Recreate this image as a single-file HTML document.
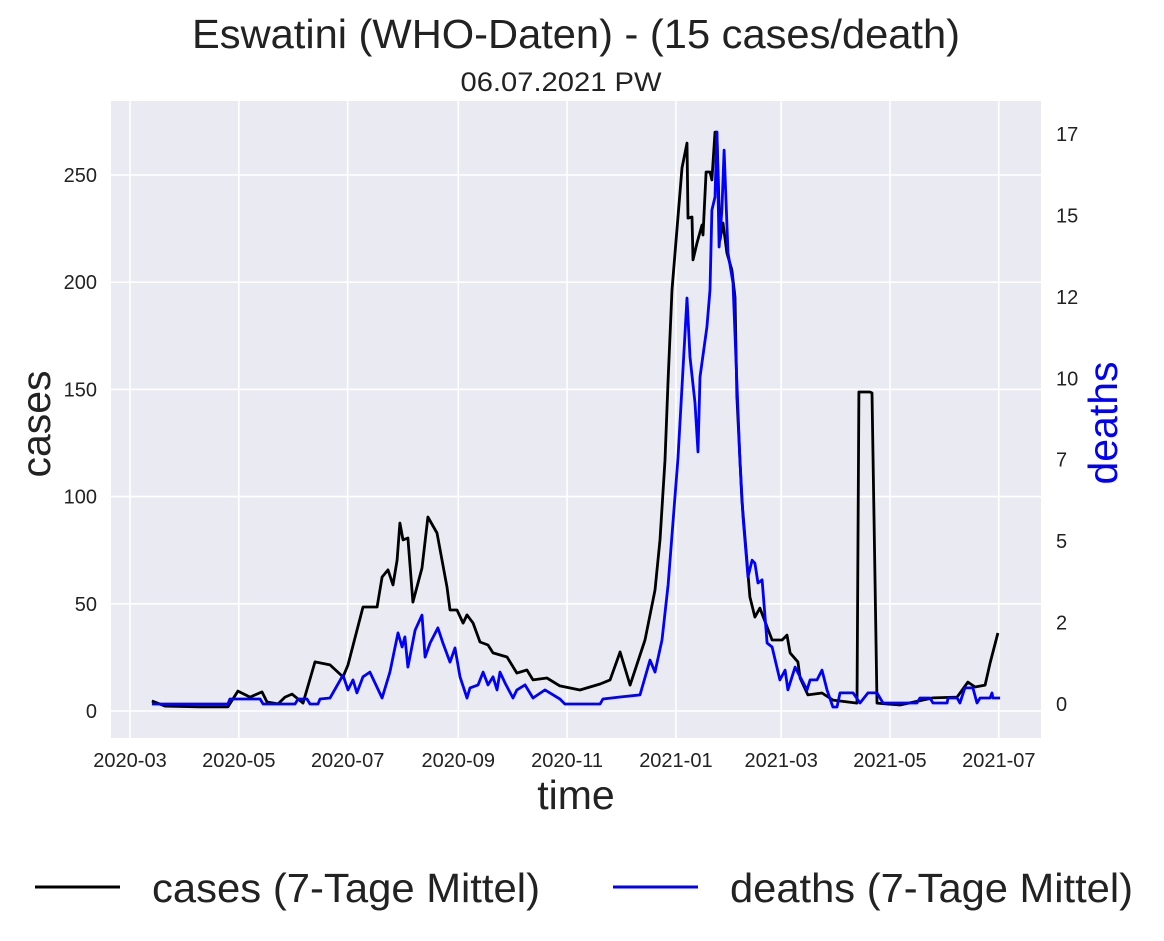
<!DOCTYPE html>
<html><head><meta charset="utf-8">
<style>
body{margin:0;background:#fff;}
svg{display:block;font-family:"Liberation Sans",sans-serif;}
</style></head>
<body>
<svg id="chart" width="1164" height="941" viewBox="0 0 1164 941" xmlns="http://www.w3.org/2000/svg">
<text x="576" y="48" text-anchor="middle" font-size="41" textLength="768" lengthAdjust="spacingAndGlyphs" fill="#222">Eswatini (WHO-Daten) - (15 cases/death)</text>
<text x="561" y="91" text-anchor="middle" font-size="27" textLength="201" lengthAdjust="spacingAndGlyphs" fill="#222">06.07.2021 PW</text>
<rect x="111" y="101" width="930" height="637" fill="#EAEAF2"/>
<g id="grid"></g>
<g id="xticks"></g>
<g id="lticks"></g>
<g id="rticks"></g>
<g id="series"></g>
<text x="576" y="809" text-anchor="middle" font-size="41" fill="#222">time</text>
<text transform="translate(50,424) rotate(-90)" text-anchor="middle" font-size="41" fill="#222">cases</text>
<text transform="translate(1117,423) rotate(-90)" text-anchor="middle" font-size="41" fill="#0000ff">deaths</text>
<g>
<line x1="35" y1="887" x2="120" y2="887" stroke="#000" stroke-width="3"/>
<text x="152" y="902" font-size="41" textLength="388" lengthAdjust="spacingAndGlyphs" fill="#222">cases (7-Tage Mittel)</text>
<line x1="613" y1="887" x2="698" y2="887" stroke="#0000ff" stroke-width="3"/>
<text x="730" y="902" font-size="41" textLength="403" lengthAdjust="spacingAndGlyphs" fill="#222">deaths (7-Tage Mittel)</text>
</g>
</svg>
<script>
const xTickLabels = ["2020-03","2020-05","2020-07","2020-09","2020-11","2021-01","2021-03","2021-05","2021-07"];
const xTickDays = [0,61,122,184,245,306,365,426,487];
const caseTicks = [0,50,100,150,200,250];
const deathTickLabels = ["0","2","5","7","10","12","15","17"];
const casesDays = [12.3,19.6,39.2,54.9,60.5,67.3,74,76.8,83,86.9,90.8,97,103.7,112.1,119.4,122.2,130.6,138.5,141.3,144.6,147.4,149.7,151.3,153,155.8,158.6,163.7,167,172.1,177.7,179.4,183.3,186.7,188.9,192.3,196.2,200.7,203.5,211.3,216.9,222.5,225.9,233.7,241,252.2,263.5,269.1,274.7,280.3,288.7,294.3,297.1,299.9,301.6,303.8,309.4,312.2,312.8,315,315.6,317.8,320.6,321.2,322.9,325.1,326.2,327.9,329,330.7,332.4,334.6,337.4,339.1,340.2,343,347.5,350.3,353.1,357.1,359.9,365.5,368.3,370,374.4,375.6,380,387.9,394,407.5,408.6,414.8,415.9,418.7,431.6,450.1,463.6,469.7,473.7,479.3,482.1,486.5];
const casesValues = [4.7,2.3,1.9,1.9,9.3,6.5,8.9,4.2,3.3,6.5,7.9,3.7,22.9,21.5,15.9,21.5,48.5,48.5,62.5,65.8,58.8,70.4,87.7,79.8,80.7,50.8,66.7,90.5,83,57.8,47.1,47.1,41,44.8,41,32.2,30.8,27.1,25.2,17.7,19.1,14.5,15.4,11.7,9.8,12.6,14.5,27.5,12.1,33.1,56.4,79.8,117,154.4,196.4,253.3,264.9,229.9,230.4,210.4,218.3,226.7,222,251.4,251.4,247.7,270,270,219.7,227.6,213.6,205.7,193.1,146.5,98.4,53.2,43.8,48,39.2,33.1,33.1,35.4,27.1,22.9,15.4,7.5,8.4,5.1,3.7,148.8,148.8,148.3,3.7,2.8,6.1,6.5,13.5,11.2,12.1,22.4,36.4];
const deathsDays = [12.3,54.9,56,72.9,74.6,92.5,94.2,99.2,100.9,105.4,106.5,112.1,119.4,122.2,125,127.2,130.6,134.5,141.3,145.7,150.2,152.5,154.1,155.8,159.8,163.7,165.4,168.2,172.6,175.4,179.4,182.2,185,188.9,190.6,195.1,197.9,200.7,203.5,205.7,207.4,210.2,214.7,216.9,221.4,225.9,232.6,241,243.8,263.5,265.1,274.7,285.9,291.5,294.3,298.2,301.6,307.2,312.2,313.9,316.7,318.4,319.5,323.4,325.1,326.2,327.9,329,330.2,331.8,333,335.2,338,341.9,343.6,346.4,348.7,350.3,352,354.3,357.1,359.9,364.3,367.2,368.8,372.8,375.6,379.5,381.2,385.1,387.9,390.7,394,396.3,398,405.3,409.2,413.7,418.7,422.1,441.1,442.8,448.4,450.1,458,458.5,463.6,465.2,468,472.5,474.8,476.5,482.1,483.2,483.7,487.7];
const deathsValues = [0,0,.15,.15,0,0,.15,.15,0,0,.15,.18,.86,.42,.72,.33,.81,.95,.18,.95,2.12,1.7,2,1.1,2.2,2.65,1.4,1.82,2.27,1.82,1.25,1.67,.81,.18,.48,.57,.95,.57,.81,.42,.95,.63,.18,.42,.57,.18,.42,.15,0,0,.15,.21,.27,1.31,.95,1.91,3.55,7.34,12.11,10.35,8.98,7.52,9.75,11.24,12.35,14.73,15.12,17.06,13.63,14.73,16.52,13.45,12.56,7.28,5.58,3.79,4.29,4.2,3.61,3.7,1.82,1.7,.72,1.01,.42,1.1,.81,.42,.72,.72,1.01,.42,-.09,-.09,.33,.33,.03,.33,.33,.03,.03,.18,.18,.03,.03,.18,.18,.03,.48,.48,.03,.18,.18,.33,.18,.18];

const NS="http://www.w3.org/2000/svg";
const xS = d => 130 + d*1.784;
const yL = v => 711 - v*2.144;
const yR = v => 704 - v*33.53;
function mk(tag, attrs, parent, txt){const e=document.createElementNS(NS,tag);for(const k in attrs)e.setAttribute(k,attrs[k]);if(txt!==undefined)e.textContent=txt;parent.appendChild(e);return e;}
const grid=document.getElementById('grid'), xt=document.getElementById('xticks'), lt=document.getElementById('lticks'), rt=document.getElementById('rticks'), ser=document.getElementById('series');
xTickDays.forEach((d,i)=>{
  const g=mk('line',{x1:xS(d),x2:xS(d),y1:101,y2:738,stroke:'#fff','stroke-width':1.6},grid);
  
  
  const t=mk('text',{x:xS(d),y:767,'text-anchor':'middle','font-size':20,fill:'#222'},xt,xTickLabels[i]);
  
  
});
caseTicks.forEach(v=>{
  const g=mk('line',{x1:111,x2:1041,y1:yL(v),y2:yL(v),stroke:'#fff','stroke-width':1.6},grid);
  
  
  const t=mk('text',{x:97,y:yL(v)+7,'text-anchor':'end','font-size':20,fill:'#222'},lt,String(v));
  
  
});
deathTickLabels.forEach((lab,i)=>{
  const v=17/7*i;
  const t=mk('text',{x:1056,y:yR(v)+7,'text-anchor':'start','font-size':20,fill:'#222'},rt,lab);
  
  
});
const pc=casesDays.map((d,i)=>xS(d).toFixed(1)+','+yL(casesValues[i]).toFixed(1)).join(' ');
const pd=deathsDays.map((d,i)=>xS(d).toFixed(1)+','+yR(deathsValues[i]).toFixed(1)).join(' ');
const lc=mk('polyline',{points:pc,fill:'none',stroke:'#000','stroke-width':2.8,'stroke-linejoin':'round'},ser);


const ld=mk('polyline',{points:pd,fill:'none',stroke:'#0000ff','stroke-width':2.8,'stroke-linejoin':'round'},ser);


</script>
</body></html>
